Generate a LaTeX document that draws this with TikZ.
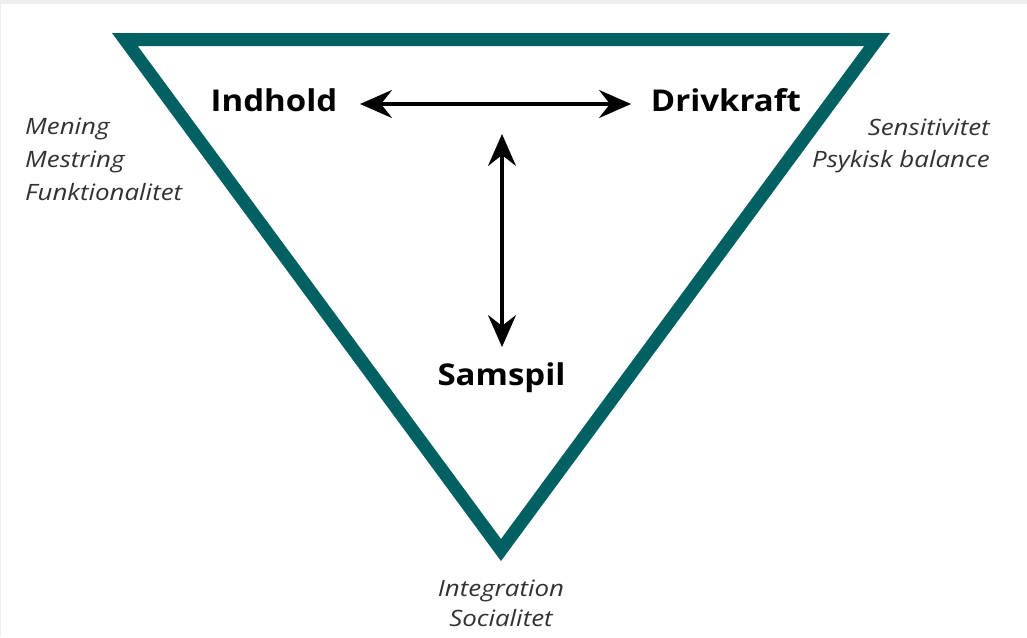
\documentclass[tikz,border=0pt]{standalone}
\usepackage{fontspec}
\setmainfont{Open Sans}
\usetikzlibrary{arrows.meta}
\definecolor{teal1}{RGB}{0,96,98}
\definecolor{txtgray}{RGB}{50,50,50}
\definecolor{framegray}{RGB}{238,238,238}
\begin{document}
\begin{tikzpicture}[x=1pt,y=-1pt,
  big/.style={font=\fontsize{30}{34}\selectfont\bfseries, text=black, inner sep=0pt, xscale=1.1, anchor=base},
  side/.style={font=\fontsize{22.5}{30}\selectfont\itshape, text=txtgray, inner sep=0pt, xscale=1.15},
  dbl/.style={line width=3.2pt, {Stealth[length=32pt,width=28pt,inset=11pt]}-{Stealth[length=32pt,width=28pt,inset=11pt]}}]
\useasboundingbox (0,0) rectangle (1027,637);
\fill[framegray] (0,0) rectangle (1027,637);
\fill[white] (1,4) rectangle (1027,637);
% triangle frame
\fill[teal1, even odd rule] (112,33) -- (890,33) -- (501,561) -- cycle
  (137.7,46) -- (864.3,46) -- (501,539) -- cycle;
% main labels
\node[big] (ind) at (274,111) {Indhold};
\node[big] (drv) at (726,111) {Drivkraft};
\node[big] (sam) at (501.5,385) {Samspil};
\coordinate (hl) at (360,104);
\coordinate (hr) at (631,104);
\coordinate (vt) at (502,134);
\coordinate (vb) at (502,347);
\draw[dbl] (hl) -- (hr);
\draw[dbl] (vt) -- (vb);
% side texts
\node[side, anchor=base west] (l1) at (25,134) {Mening};
\node[side, anchor=base west] (l2) at (25,167) {Mestring};
\node[side, anchor=base west] (l3) at (25,200) {Funktionalitet};
\node[side, anchor=base east] (r1) at (990,135) {Sensitivitet};
\node[side, anchor=base east] (r2) at (990,167) {Psykisk balance};
\node[side, anchor=base] (b1) at (501,596) {Integration};
\node[side, anchor=base] (b2) at (501,626) {Socialitet};
\end{tikzpicture}
\end{document}
